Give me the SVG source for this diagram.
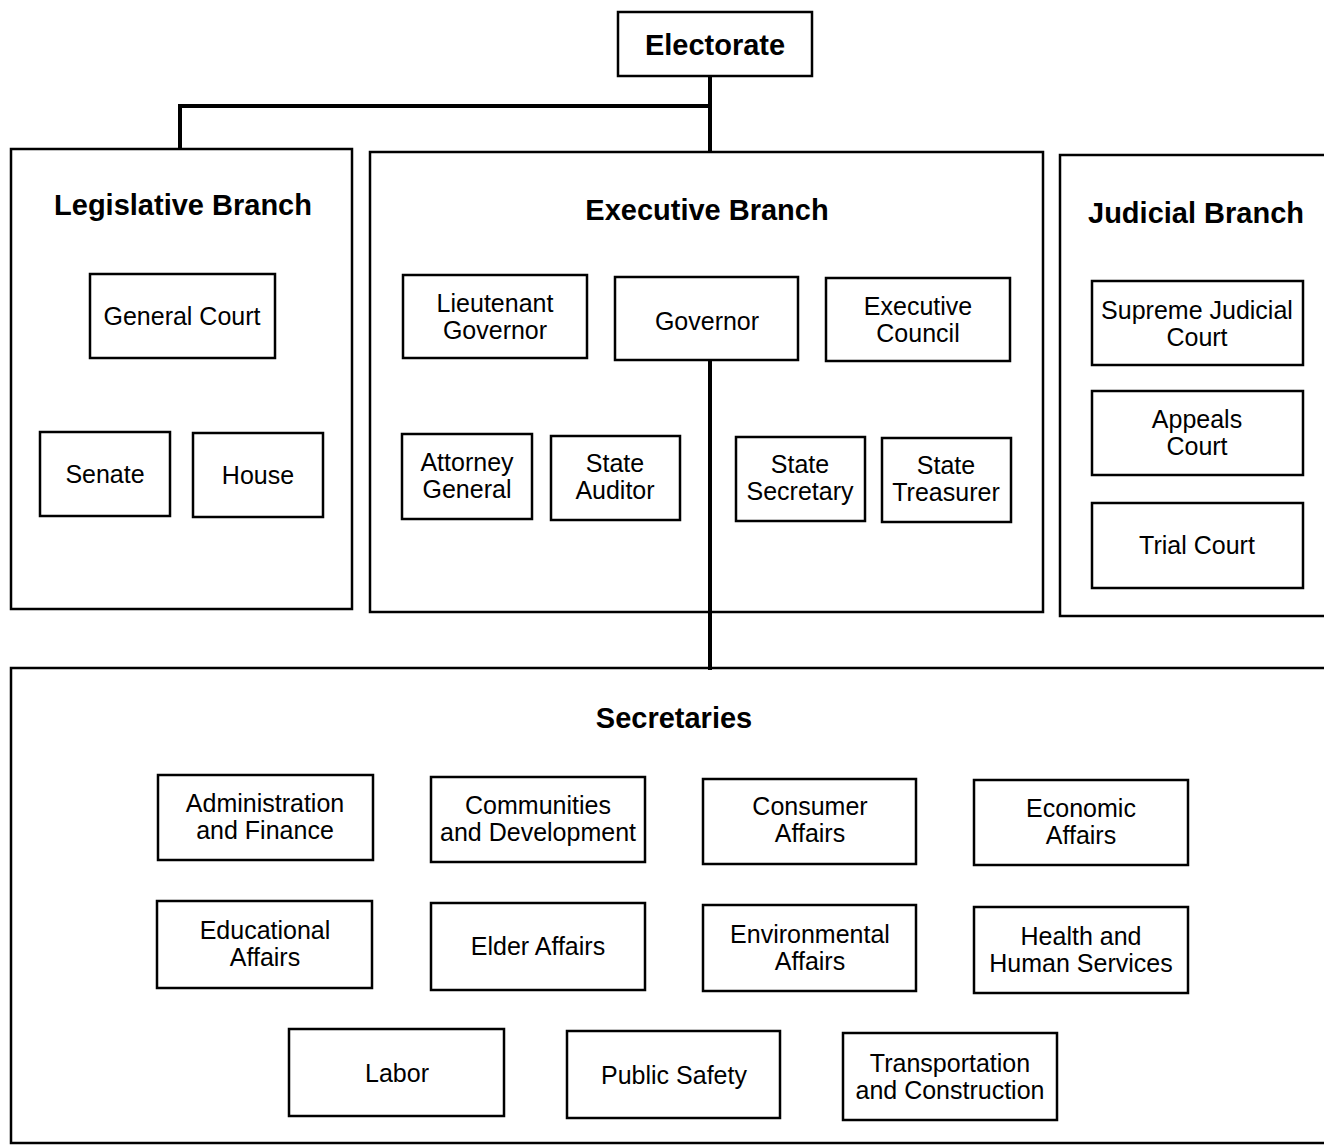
<svg xmlns="http://www.w3.org/2000/svg" width="1324" height="1146" viewBox="0 0 1324 1146">
<style>
.bg{fill:#fff}
.box{fill:#fff;stroke:#000;stroke-width:2.5}
.frame{fill:#fff;stroke:#000;stroke-width:2.5}
.conn{fill:none;stroke:#000;stroke-width:4}
text{font-family:"Liberation Sans",Arial,sans-serif;fill:#000;text-anchor:middle;dominant-baseline:central}
.t{font-size:25px}
.h{font-size:29px;font-weight:bold}
</style>
<rect class="bg" x="0" y="0" width="1324" height="1146"/>

<g id="legislative">
<rect class="frame" x="11" y="149" width="341" height="460"/>
<text class="h" x="183" y="205">Legislative Branch</text>
</g>
<g id="executive">
<rect class="frame" x="370" y="152" width="673" height="460"/>
<text class="h" x="707" y="210">Executive Branch</text>
</g>
<g id="judicial">
<rect class="frame" x="1060" y="155" width="280" height="461"/>
<text class="h" x="1196" y="213">Judicial Branch</text>
</g>
<g id="secretaries">
<rect class="frame" x="11" y="668" width="1330" height="475"/>
<text class="h" x="674" y="718">Secretaries</text>
</g>

<g id="connectors">
<path class="conn" d="M710 76 V152"/>
<path class="conn" d="M710 106 H180 V149"/>
<path class="conn" d="M710 360 V670"/>
</g>

<g id="electorate"><rect class="box" x="618" y="12" width="194" height="64"/><text class="h" x="715" y="45">Electorate</text></g>

<g id="general-court"><rect class="box" x="90" y="274" width="185" height="84"/><text class="t" x="182" y="316">General Court</text></g>
<g id="senate"><rect class="box" x="40" y="432" width="130" height="84"/><text class="t" x="105" y="474">Senate</text></g>
<g id="house"><rect class="box" x="193" y="433" width="130" height="84"/><text class="t" x="258" y="475">House</text></g>

<g id="lieutenant-governor"><rect class="box" x="403" y="275" width="184" height="83"/><text class="t" x="495" y="303">Lieutenant</text><text class="t" x="495" y="330">Governor</text></g>
<g id="governor"><rect class="box" x="615" y="277" width="183" height="83"/><text class="t" x="707" y="321">Governor</text></g>
<g id="executive-council"><rect class="box" x="826" y="278" width="184" height="83"/><text class="t" x="918" y="306">Executive</text><text class="t" x="918" y="333">Council</text></g>
<g id="attorney-general"><rect class="box" x="402" y="434" width="130" height="85"/><text class="t" x="467" y="462">Attorney</text><text class="t" x="467" y="489">General</text></g>
<g id="state-auditor"><rect class="box" x="551" y="436" width="129" height="84"/><text class="t" x="615" y="463">State</text><text class="t" x="615" y="490">Auditor</text></g>
<g id="state-secretary"><rect class="box" x="736" y="437" width="129" height="84"/><text class="t" x="800" y="464">State</text><text class="t" x="800" y="491">Secretary</text></g>
<g id="state-treasurer"><rect class="box" x="882" y="438" width="129" height="84"/><text class="t" x="946" y="465">State</text><text class="t" x="946" y="492">Treasurer</text></g>

<g id="supreme-judicial-court"><rect class="box" x="1092" y="281" width="211" height="84"/><text class="t" x="1197" y="310">Supreme Judicial</text><text class="t" x="1197" y="337">Court</text></g>
<g id="appeals-court"><rect class="box" x="1092" y="391" width="211" height="84"/><text class="t" x="1197" y="419">Appeals</text><text class="t" x="1197" y="446">Court</text></g>
<g id="trial-court"><rect class="box" x="1092" y="503" width="211" height="85"/><text class="t" x="1197" y="545">Trial Court</text></g>

<g id="admin-finance"><rect class="box" x="158" y="775" width="215" height="85"/><text class="t" x="265" y="803">Administration</text><text class="t" x="265" y="830">and Finance</text></g>
<g id="communities"><rect class="box" x="431" y="777" width="214" height="85"/><text class="t" x="538" y="805">Communities</text><text class="t" x="538" y="832">and Development</text></g>
<g id="consumer"><rect class="box" x="703" y="779" width="213" height="85"/><text class="t" x="810" y="806">Consumer</text><text class="t" x="810" y="833">Affairs</text></g>
<g id="economic"><rect class="box" x="974" y="780" width="214" height="85"/><text class="t" x="1081" y="808">Economic</text><text class="t" x="1081" y="835">Affairs</text></g>

<g id="educational"><rect class="box" x="157" y="901" width="215" height="87"/><text class="t" x="265" y="930">Educational</text><text class="t" x="265" y="957">Affairs</text></g>
<g id="elder"><rect class="box" x="431" y="903" width="214" height="87"/><text class="t" x="538" y="946">Elder Affairs</text></g>
<g id="environmental"><rect class="box" x="703" y="905" width="213" height="86"/><text class="t" x="810" y="934">Environmental</text><text class="t" x="810" y="961">Affairs</text></g>
<g id="health"><rect class="box" x="974" y="907" width="214" height="86"/><text class="t" x="1081" y="936">Health and</text><text class="t" x="1081" y="963">Human Services</text></g>

<g id="labor"><rect class="box" x="289" y="1029" width="215" height="87"/><text class="t" x="397" y="1073">Labor</text></g>
<g id="public-safety"><rect class="box" x="567" y="1031" width="213" height="87"/><text class="t" x="674" y="1075">Public Safety</text></g>
<g id="transportation"><rect class="box" x="843" y="1033" width="214" height="87"/><text class="t" x="950" y="1063">Transportation</text><text class="t" x="950" y="1090">and Construction</text></g>
</svg>
